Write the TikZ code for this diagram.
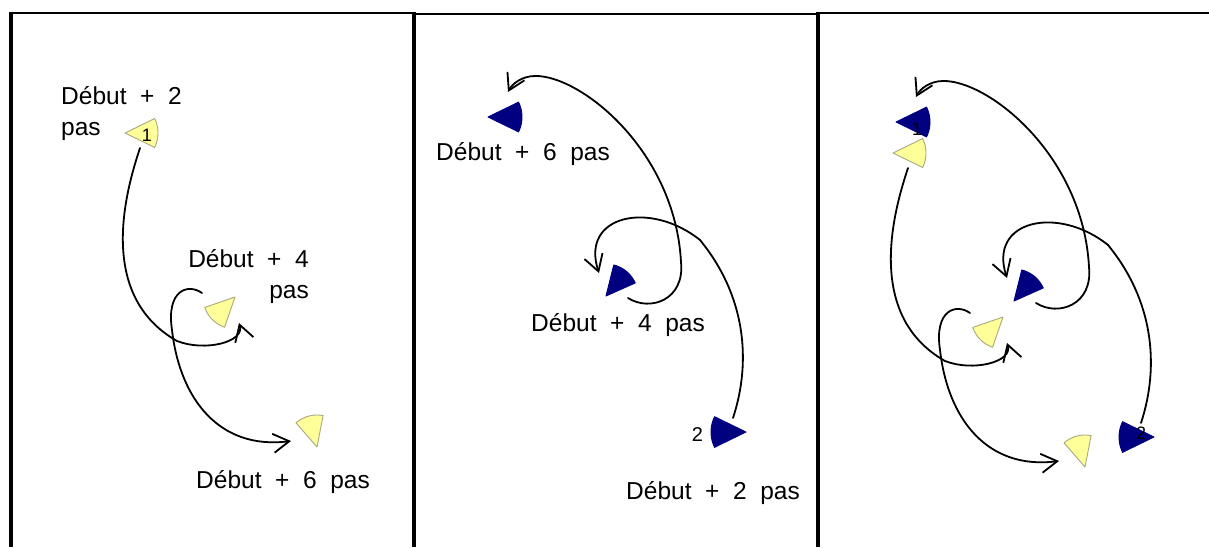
\documentclass[tikz,border=0pt]{standalone}
\usepackage{fontspec}
\setmainfont{Liberation Sans}[WordSpace=2]
\usetikzlibrary{arrows.meta}
\definecolor{yellowpawn}{HTML}{FFFF99}
\definecolor{yellowedge}{HTML}{A8A880}
\definecolor{navypawn}{HTML}{000080}
\newcommand\pawn[6]{%
  \coordinate (#1) at (#2,#3);
  \filldraw[#6] (#1) -- plot[domain=#4-26:#4+26, samples=13, variable=\t] ({#2+#5*cos(\t)},{#3+#5*sin(\t)}) -- cycle;}
\newcommand\yellowset{%
  \pawn{ya}{125}{133}{0}{33}{ypawn}
  \pawn{yb}{235}{297}{135}{32}{ypawn}
  \pawn{yc}{317}{447}{255}{32}{ypawn}
  \coordinate (ya-out) at (140,148);
  \coordinate (yb-in) at (239,323);
  \coordinate (yb-out) at (202,293);
  \coordinate (yc-in) at (291,441);
  \draw[conn] (ya-out) .. controls (126,190) and (96,295) .. (177,341) .. controls (205,352) and (245,342) .. (yb-in);
  \draw[conn] (yb-out) .. controls (188,283) and (166,290) .. (172,330) .. controls (180,400) and (220,450) .. (yc-in);
}
\newcommand\navyset{%
  \pawn{na}{488}{117}{0}{34}{npawn}
  \pawn{nb}{606}{296}{-50}{32}{npawn}
  \pawn{nc}{746}{432}{180}{35}{npawn}
  \coordinate (nc-out) at (733,418);
  \coordinate (nb-in) at (599,273);
  \coordinate (nb-out) at (628,298);
  \coordinate (na-in) at (508,92);
  \draw[conn] (nc-out) .. controls (752,360) and (745,295) .. (700,240) .. controls (650,200) and (580,215) .. (nb-in);
  \draw[conn] (nb-out) .. controls (650,312) and (685,300) .. (681,262) .. controls (675,150) and (580,75) .. (535,76) .. controls (522,76) and (512,84) .. (na-in);
}
\begin{document}
\begin{tikzpicture}[x=1pt,y=-1pt,
  vframe/.style={line width=3.3pt},
  hframe/.style={line width=2pt},
  conn/.style={line width=1.8pt, line cap=round, -{Straight Barb[length=16pt,width=19pt]}},
  ypawn/.style={fill=yellowpawn, draw=yellowedge, line width=0.9pt, line join=round},
  npawn/.style={fill=navypawn, draw=navypawn, line width=0.9pt, line join=round},
  lbl/.style={inner sep=0pt, font=\fontsize{24.5}{31}\selectfont},
  num/.style={inner sep=0pt, font=\fontsize{18}{18}\selectfont}]
\useasboundingbox (0,0) rectangle (1209,547);
\fill[white] (0,0) rectangle (1209,547);
% frames
\draw[hframe] (11,12.5) -- (414,12.5);
\draw[hframe] (414,13.5) -- (818,13.5);
\draw[hframe] (818,12.5) -- (1209,12.5);
\draw[vframe] (11,11.5) -- (11,547);
\draw[vframe] (414,11.5) -- (414,547);
\draw[vframe] (818,11.5) -- (818,547);
% panels
\begin{scope}[name prefix=p1-] \yellowset \end{scope}
\begin{scope}[name prefix=p2-] \navyset \end{scope}
\begin{scope}[shift={(768,20)}, name prefix=p3y-] \yellowset \end{scope}
\begin{scope}[shift={(408,5)}, name prefix=p3n-] \navyset \end{scope}
% labels
\node[lbl, anchor=north west, align=left] (t1) at (61,86) {Début + 2\\pas};
\node[lbl, anchor=north east, align=right] (t2) at (309,249) {Début + 4\\pas};
\node[lbl, anchor=base west] (t3) at (196,488) {Début + 6 pas};
\node[lbl, anchor=base west] (t4) at (436,160) {Début + 6 pas};
\node[lbl, anchor=base west] (t5) at (531,331) {Début + 4 pas};
\node[lbl, anchor=base west] (t6) at (626,499) {Début + 2 pas};
\node[num] (n1) at (147,135) {1};
\node[num, font=\fontsize{20}{20}\selectfont] (n2) at (697.5,434.5) {2};
\node[num] (n3) at (917,129) {1};
\node[num] (n4) at (1141,433) {2};
\end{tikzpicture}
\end{document}
